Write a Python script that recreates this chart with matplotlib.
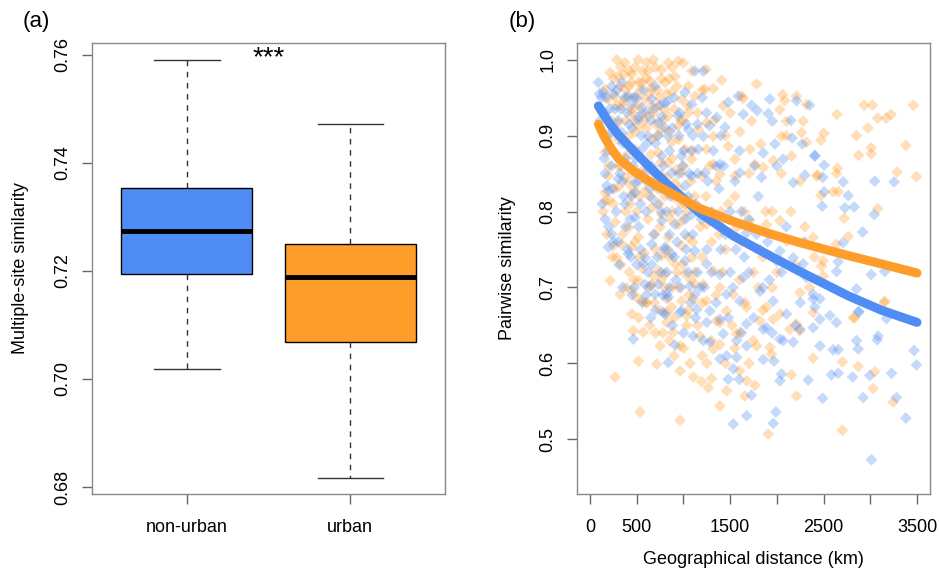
import numpy as np
import matplotlib
matplotlib.use("Agg")
import matplotlib.pyplot as plt

plt.rcParams['font.family'] = ['Liberation Sans', 'DejaVu Sans']

BLUE = "#4f8df5"
ORANGE = "#ff9d2a"

# ---- panel (a): multiple-site similarity boxplot ----
groups = ["non-urban", "urban"]
whis_lo = [0.7018, 0.6817]
q1 = [0.7195, 0.7068]
median = [0.7273, 0.7188]
q3 = [0.7354, 0.7250]
whis_hi = [0.7590, 0.7472]
box_colors = [BLUE, ORANGE]
yticks_a = [0.68, 0.70, 0.72, 0.74, 0.76]

# ---- panel (b): pairwise similarity vs distance ----
curve_km = [89, 150, 220, 303, 481, 660, 837, 1176, 1533, 1890, 2246, 2763, 3120, 3500]
curve_blue = [0.939, 0.927, 0.914, 0.901, 0.878, 0.856, 0.835, 0.798, 0.768, 0.744, 0.721, 0.689, 0.670, 0.654]
curve_orange = [0.915, 0.899, 0.884, 0.870, 0.852, 0.838, 0.826, 0.804, 0.787, 0.772, 0.759, 0.742, 0.731, 0.719]

orange_pairs = [
    (267, 0.582), (535, 0.536), (963, 0.525), (1907, 0.507), (2702, 0.512), (3244, 0.549), (3030, 0.567),
    (3048, 0.589), (2870, 0.596), (2210, 0.557), (2389, 0.607), (2702, 0.602), (2816, 0.660), (3148, 0.680),
    (517, 0.603), (463, 0.643), (713, 0.599), (963, 0.590), (1105, 0.582), (1194, 0.576), (1266, 0.568),
    (1390, 0.544), (1462, 0.564), (1658, 0.557), (1765, 0.571), (1676, 0.577), (2157, 0.585), (1943, 0.612),
    (2934, 0.940), (3023, 0.940), (3462, 0.940), (2642, 0.928), (3080, 0.923), (3170, 0.923), (3223, 0.928),
    (2973, 0.910), (2503, 0.903), (2471, 0.894), (2852, 0.900), (3380, 0.887), (3009, 0.884), (3009, 0.876),
    (2874, 0.874), (2649, 0.857), (2638, 0.850), (2442, 0.848), (3287, 0.852), (3494, 0.846),
    (2602, 0.826), (2656, 0.826), (2471, 0.821), (3080, 0.804), (2720, 0.791), (2763, 0.767), (2638, 0.757),
    (2495, 0.735), (2478, 0.728), (2495, 0.715), (3155, 0.682), (2834, 0.660),
    (1241, 0.987), (1783, 0.968), (1409, 0.973), (1319, 0.962), (1230, 0.961), (2061, 0.954), (2210, 0.952),
    (1622, 0.952), (2317, 0.941), (2083, 0.946), (2032, 0.934), (2103, 0.919), (2281, 0.919), (2264, 0.904),
    (2050, 0.899), (1729, 0.919), (1604, 0.905), (1829, 0.889), (1711, 0.882), (1551, 0.869), (1479, 0.886),
    (2317, 0.891), (2157, 0.873), (2424, 0.847), (1765, 0.862), (1961, 0.867), (1854, 0.858), (1551, 0.847),
    (1390, 0.849), (1319, 0.862), (1247, 0.882), (1319, 0.899), (1247, 0.917), (1426, 0.939), (1640, 0.949),
    (285, 1.000), (374, 0.996), (517, 1.000), (606, 0.996), (677, 1.000), (214, 0.983), (303, 0.978),
    (446, 0.981), (767, 0.987), (837, 0.996), (944, 0.998), (998, 0.996), (909, 0.978), (642, 0.972),
    (553, 0.970), (660, 0.963), (802, 0.970), (1051, 0.965), (160, 0.961), (374, 0.961), (267, 0.952),
    (481, 0.952), (588, 0.948), (874, 0.957), (980, 0.948), (1123, 0.952), (196, 0.948), (339, 0.939),
    (731, 0.939), (446, 0.930), (624, 0.926), (837, 0.926), (1051, 0.930), (303, 0.917), (517, 0.913),
    (767, 0.908), (944, 0.913), (1158, 0.908), (410, 0.899), (660, 0.895), (874, 0.891), (160, 0.878),
    (481, 0.882), (731, 0.878), (1016, 0.882), (588, 0.864), (837, 0.864), (1088, 0.869), (517, 0.851),
    (767, 0.847), (980, 0.851), (1195, 0.847), (196, 0.847), (303, 0.860), (410, 0.838), (695, 0.834),
    (909, 0.838),
    (160, 0.825), (160, 0.814), (303, 0.832), (446, 0.823), (588, 0.827), (267, 0.786), (410, 0.779),
    (517, 0.766), (339, 0.757), (249, 0.755), (285, 0.739), (446, 0.753), (695, 0.770), (837, 0.766),
    (944, 0.783), (767, 0.796), (660, 0.805), (1016, 0.810), (909, 0.818), (767, 0.742), (909, 0.731),
    (1016, 0.718), (1088, 0.739), (1123, 0.704), (214, 0.709), (517, 0.709), (660, 0.704), (802, 0.718),
    (321, 0.691), (446, 0.696), (553, 0.682), (820, 0.685), (980, 0.682), (1034, 0.663), (874, 0.674),
    (731, 0.722), (1051, 0.766),
    (1247, 0.783), (1568, 0.779), (1711, 0.788), (1889, 0.783), (2032, 0.788), (2103, 0.761), (2281, 0.759),
    (2388, 0.766), (1319, 0.722), (1212, 0.704), (1390, 0.700), (1533, 0.691), (1247, 0.682), (1461, 0.669),
    (1675, 0.674), (1889, 0.674), (1818, 0.656), (2032, 0.665), (2210, 0.652), (2245, 0.643), (1354, 0.656),
    (1568, 0.639), (1746, 0.630), (1925, 0.621), (1390, 0.625),
    (499, 0.687), (606, 0.680), (820, 0.667), (1034, 0.650), (1176, 0.636), (820, 0.654), (749, 0.623),
    (963, 0.623), (1319, 0.619), (1390, 0.654), (1604, 0.641), (1783, 0.623), (1961, 0.658), (2139, 0.645),
    (2246, 0.693), (2389, 0.667), (1105, 0.685), (446, 0.665), (570, 0.641), (891, 0.641),
    (250, 0.975), (330, 0.990), (420, 0.985), (480, 0.990), (560, 0.985), (700, 0.990), (760, 0.975),
    (880, 0.990), (420, 0.965), (520, 0.970), (600, 0.975), (640, 0.955), (720, 0.960), (820, 0.955),
    (350, 0.945), (450, 0.935), (560, 0.930), (680, 0.930), (780, 0.920), (900, 0.935), (1000, 0.920),
    (380, 0.920), (480, 0.905), (600, 0.910), (720, 0.900), (850, 0.905), (950, 0.895), (300, 0.895),
    (400, 0.875), (540, 0.870), (650, 0.875), (760, 0.865), (880, 0.870), (1000, 0.860), (1100, 0.880),
    (450, 0.850), (600, 0.840), (720, 0.830), (820, 0.845), (950, 0.830), (1080, 0.840), (200, 0.860),
    (250, 0.810), (380, 0.800), (500, 0.800), (620, 0.790), (750, 0.780), (880, 0.800), (1000, 0.790),
    (1150, 0.800), (350, 0.770), (480, 0.760), (580, 0.745), (700, 0.750), (850, 0.740), (980, 0.755),
    (1100, 0.760), (420, 0.720), (560, 0.725), (680, 0.715), (800, 0.700), (950, 0.700), (1080, 0.710),
    (1200, 0.740), (600, 0.680), (750, 0.670), (900, 0.660), (1050, 0.670), (1150, 0.650), (850, 0.630),
    (1000, 0.620), (700, 0.640), (1250, 0.600), (1300, 0.630), (1350, 0.690), (1300, 0.760), (1400, 0.800),
    (1350, 0.840), (1450, 0.900), (1500, 0.930), (1550, 0.820), (1650, 0.800), (1700, 0.850), (1600, 0.710),
    (1750, 0.720), (1850, 0.740), (1950, 0.800), (1450, 0.750), (1550, 0.620), (1700, 0.600), (1850, 0.670),
    (1950, 0.700), (2050, 0.850), (2150, 0.800), (2250, 0.840), (2100, 0.900), (2200, 0.730), (2350, 0.700),
    (2300, 0.780), (2400, 0.740),
    (130, 0.930), (180, 0.900), (230, 0.920), (280, 0.940), (320, 0.965), (360, 0.980), (400, 0.950),
    (440, 0.970), (470, 0.920), (510, 0.940), (540, 0.960), (580, 0.920), (620, 0.985), (660, 0.940),
    (700, 0.915), (740, 0.950), (790, 0.935), (850, 0.975), (930, 0.965), (970, 0.920), (1040, 0.940),
    (1090, 0.985), (1150, 0.930), (1200, 0.960), (140, 0.800), (200, 0.815), (260, 0.830), (330, 0.860),
    (370, 0.845), (430, 0.810), (470, 0.830), (530, 0.820), (570, 0.855), (640, 0.820), (690, 0.850),
    (740, 0.810), (800, 0.820), (860, 0.790), (920, 0.855), (980, 0.810), (1040, 0.800), (1120, 0.820),
    (1180, 0.780), (1240, 0.820), (1280, 0.860), (1330, 0.920), (1380, 0.770), (1420, 0.720), (1480, 0.810),
    (1520, 0.650), (1620, 0.760), (1660, 0.680), (1800, 0.700), (1880, 0.800), (2000, 0.720), (180, 0.770),
    (240, 0.740), (330, 0.730), (390, 0.700), (470, 0.710), (530, 0.740), (630, 0.700), (690, 0.680),
    (760, 0.710), (830, 0.750), (880, 0.700), (930, 0.720), (990, 0.730), (1060, 0.690), (1120, 0.720),
    (1200, 0.680), (520, 0.660), (640, 0.650), (780, 0.640), (900, 0.610), (1070, 0.600), (1200, 0.610),
    (1300, 0.580), (1450, 0.600), (1600, 0.590),
]

blue_pairs = [
    (3012, 0.473), (3380, 0.528), (3280, 0.555), (3494, 0.598), (3468, 0.617), (2923, 0.555), (2995, 0.584),
    (3227, 0.587), (2810, 0.582), (2870, 0.619), (2852, 0.630), (3083, 0.636), (3073, 0.631), (2489, 0.554),
    (2335, 0.578), (2585, 0.585), (2656, 0.587), (2602, 0.618), (2656, 0.618), (2460, 0.623), (2567, 0.663),
    (2638, 0.654), (2880, 0.668), (3173, 0.659), (1533, 0.520), (1676, 0.531), (1729, 0.558), (1961, 0.521),
    (1989, 0.536), (2032, 0.577), (2050, 0.586), (463, 0.632), (837, 0.601), (909, 0.624), (1105, 0.636),
    (1390, 0.606), (1569, 0.608), (1533, 0.593), (1479, 0.579), (1597, 0.579), (1854, 0.605), (1968, 0.603),
    (2506, 0.861), (2709, 0.839), (3048, 0.840), (3254, 0.839), (2406, 0.873), (2492, 0.845),
    (2506, 0.826), (2485, 0.807), (2727, 0.805), (2827, 0.806), (2763, 0.821), (3041, 0.796), (2917, 0.773),
    (2709, 0.759), (2656, 0.734), (2638, 0.721), (3009, 0.717), (3155, 0.721), (2460, 0.685), (2406, 0.674),
    (2870, 0.668),
    (1212, 0.985), (1479, 0.944), (1586, 0.952), (1729, 0.940), (1789, 0.933), (1925, 0.948), (1907, 0.929),
    (1951, 0.919), (2210, 0.946), (2164, 0.897), (2271, 0.889), (2406, 0.874), (1979, 0.889), (1640, 0.928),
    (1444, 0.911), (1355, 0.924), (1247, 0.930), (1280, 0.913), (1212, 0.899), (1854, 0.877), (2067, 0.869),
    (1835, 0.845), (2175, 0.838), (2299, 0.848), (1604, 0.851), (1390, 0.862), (1230, 0.851),
    (89, 0.970), (142, 0.957), (232, 0.965), (339, 0.970), (410, 0.952), (267, 0.935), (446, 0.941),
    (553, 0.937), (660, 0.948), (802, 0.943), (1016, 0.957), (1123, 0.985), (695, 0.965), (517, 0.921),
    (731, 0.917), (944, 0.926), (1088, 0.941), (339, 0.904), (624, 0.899), (837, 0.899), (1051, 0.908),
    (553, 0.882), (767, 0.873), (980, 0.873), (1158, 0.882), (660, 0.860), (874, 0.851), (1088, 0.847),
    (303, 0.843), (481, 0.838), (802, 0.838), (1016, 0.834), (178, 0.834),
    (196, 0.827), (232, 0.770), (196, 0.753), (410, 0.744), (481, 0.792), (374, 0.810), (588, 0.739),
    (570, 0.731), (660, 0.757), (802, 0.753), (874, 0.744), (1016, 0.735), (731, 0.704), (695, 0.691),
    (588, 0.704), (837, 0.687), (980, 0.669), (802, 0.665), (1123, 0.691), (909, 0.783), (1088, 0.796),
    (767, 0.788), (660, 0.818), (481, 0.825), (1016, 0.770), (1123, 0.748),
    (1426, 0.792), (1675, 0.772), (1782, 0.770), (2032, 0.748), (1996, 0.735), (2174, 0.739), (2281, 0.731),
    (2317, 0.713), (2388, 0.691), (1247, 0.731), (1390, 0.717), (1639, 0.713), (1461, 0.691), (1283, 0.669),
    (1604, 0.682), (1818, 0.695), (1960, 0.682), (2103, 0.665), (1889, 0.647), (1675, 0.652), (1426, 0.639),
    (1568, 0.630), (2067, 0.630), (2388, 0.647), (1212, 0.630),
    (642, 0.702), (784, 0.667), (963, 0.667), (1141, 0.671), (1248, 0.654), (1283, 0.628), (1390, 0.658),
    (1462, 0.610), (1676, 0.623), (1854, 0.645), (2032, 0.632), (2175, 0.628), (2246, 0.645), (2460, 0.658),
    (2389, 0.685), (2852, 0.698), (1070, 0.702), (820, 0.691),
    (120, 0.950), (160, 0.930), (200, 0.900), (250, 0.955), (300, 0.920), (350, 0.890), (400, 0.930),
    (450, 0.910), (500, 0.950), (550, 0.900), (600, 0.930), (650, 0.920), (700, 0.890), (750, 0.940),
    (800, 0.910), (850, 0.880), (900, 0.950), (950, 0.900), (1000, 0.880), (1100, 0.900), (150, 0.870),
    (230, 0.860), (320, 0.850), (380, 0.870), (460, 0.860), (520, 0.840), (620, 0.860), (700, 0.850),
    (780, 0.860), (860, 0.820), (950, 0.850), (1050, 0.820), (1150, 0.850), (130, 0.810), (280, 0.800),
    (360, 0.820), (430, 0.790), (520, 0.780), (600, 0.800), (680, 0.770), (760, 0.800), (850, 0.770),
    (930, 0.760), (1020, 0.790), (1100, 0.770), (200, 0.780), (300, 0.760), (400, 0.750), (500, 0.730),
    (620, 0.720), (720, 0.740), (820, 0.720), (920, 0.710), (1050, 0.720), (1180, 0.700), (350, 0.700),
    (450, 0.690), (560, 0.680), (650, 0.660), (780, 0.690), (880, 0.650), (1000, 0.640), (1130, 0.660),
    (1250, 0.750), (1300, 0.800), (1350, 0.860), (1400, 0.900), (1450, 0.770), (1500, 0.720), (1550, 0.840),
    (1600, 0.880), (1650, 0.740), (1700, 0.790), (1750, 0.660), (1800, 0.820), (1850, 0.700), (1900, 0.760),
    (1950, 0.640), (2000, 0.860), (2050, 0.720), (2100, 0.780), (2150, 0.920), (2250, 0.680), (2300, 0.760),
    (2350, 0.940), (2200, 0.650),
    (100, 0.955), (110, 0.920), (170, 0.950), (210, 0.935), (260, 0.910), (290, 0.960), (330, 0.935),
    (370, 0.950), (420, 0.915), (470, 0.950), (520, 0.925), (570, 0.960), (610, 0.890), (680, 0.935),
    (730, 0.900), (770, 0.925), (830, 0.945), (880, 0.910), (960, 0.930), (1030, 0.915), (1080, 0.880),
    (1150, 0.915), (1200, 0.950), (160, 0.850), (190, 0.880), (240, 0.830), (270, 0.875), (350, 0.840),
    (410, 0.860), (440, 0.820), (490, 0.870), (540, 0.810), (580, 0.850), (640, 0.830), (720, 0.810),
    (750, 0.830), (820, 0.800), (890, 0.830), (940, 0.800), (990, 0.860), (1060, 0.850), (1130, 0.810),
    (1190, 0.790), (1260, 0.840), (1320, 0.880), (1380, 0.830), (1430, 0.860), (1500, 0.800), (1560, 0.750),
    (1620, 0.800), (1700, 0.720), (1760, 0.860), (1820, 0.750), (1920, 0.710), (160, 0.790), (250, 0.760),
    (310, 0.730), (380, 0.780), (440, 0.740), (470, 0.700), (540, 0.750), (600, 0.690), (660, 0.730),
    (700, 0.670), (760, 0.720), (800, 0.750), (850, 0.700), (900, 0.740), (970, 0.700), (1030, 0.750),
    (1080, 0.680), (1150, 0.720), (1220, 0.700), (1300, 0.720), (1350, 0.680), (1400, 0.750), (1480, 0.660),
    (1530, 0.700), (1620, 0.640),
]

xticks_b = [0, 500, 1000, 1500, 2000, 2500, 3000, 3500]
xticklabels_b = ["0", "500", "", "1500", "", "2500", "", "3500"]
yticks_b = [0.5, 0.6, 0.7, 0.8, 0.9, 1.0]

fig = plt.figure(figsize=(9.39, 5.72), dpi=100)
ax_a = fig.add_axes([0.098, 0.1364, 0.376, 0.7885])
ax_b = fig.add_axes([0.6145, 0.1364, 0.376, 0.7885])

frame_col = "#888888"

def style_axes(ax):
    for sp in ax.spines.values():
        sp.set_color(frame_col)
        sp.set_linewidth(1.0)
    ax.tick_params(direction="out", length=7, width=1, color="#666666",
                   labelsize=13, pad=8)

# panel (a)
stats = []
for i, g in enumerate(groups):
    stats.append(dict(label=g, whislo=whis_lo[i], q1=q1[i], med=median[i],
                      q3=q3[i], whishi=whis_hi[i], fliers=[]))
bp = ax_a.bxp(stats, positions=[1, 2], widths=0.8, patch_artist=True,
              showfliers=False, capwidths=0.4,
              boxprops=dict(edgecolor="black", linewidth=1.0),
              whiskerprops=dict(color="#333333", linewidth=1.0, linestyle=(0, (4, 4))),
              capprops=dict(color="#333333", linewidth=1.0),
              medianprops=dict(color="black", linewidth=3.5, solid_capstyle="butt"))
for patch, c in zip(bp["boxes"], box_colors):
    patch.set_facecolor(c)

ax_a.set_xlim(0.42, 2.58)
ax_a.set_ylim(0.6787, 0.7622)
ax_a.set_yticks(yticks_a)
ax_a.set_yticklabels([f"{v:.2f}" for v in yticks_a], rotation=90, va="center")
ax_a.set_xticks([1, 2])
ax_a.set_xticklabels(groups)
ax_a.set_ylabel("Multiple-site similarity", fontsize=13, labelpad=18)
style_axes(ax_a)
ax_a.tick_params(axis="x", pad=11)
ax_a.text(1.5, 0.7593, "***", ha="center", va="center", fontsize=20)
fig.text(0.039, 0.962, "(a)", fontsize=16, ha="center", va="center")

# panel (b)
o_km, o_sim = zip(*orange_pairs)
b_km, b_sim = zip(*blue_pairs)
ax_b.scatter(o_km, o_sim, marker="D", s=36, color=ORANGE, alpha=0.33,
             edgecolors="none", zorder=2)
ax_b.scatter(b_km, b_sim, marker="D", s=36, color=BLUE, alpha=0.33,
             edgecolors="none", zorder=2)
ax_b.plot(curve_km, curve_blue, color=BLUE, lw=6.5, solid_capstyle="round",
          solid_joinstyle="round", zorder=3)
ax_b.plot(curve_km, curve_orange, color=ORANGE, lw=6.5, solid_capstyle="round",
          solid_joinstyle="round", zorder=3)

ax_b.set_xlim(-140, 3640)
ax_b.set_ylim(0.428, 1.022)
ax_b.set_xticks(xticks_b)
ax_b.set_xticklabels(xticklabels_b)
ax_b.set_yticks(yticks_b)
ax_b.set_yticklabels([f"{v:.1f}" for v in yticks_b], rotation=90, va="center")
ax_b.set_xlabel("Geographical distance (km)", fontsize=13, labelpad=11)
ax_b.set_ylabel("Pairwise similarity", fontsize=13, labelpad=17)
style_axes(ax_b)
ax_b.tick_params(axis="x", pad=11)
fig.text(0.556, 0.962, "(b)", fontsize=16, ha="center", va="center")

fig.savefig("out.png", dpi=100)
